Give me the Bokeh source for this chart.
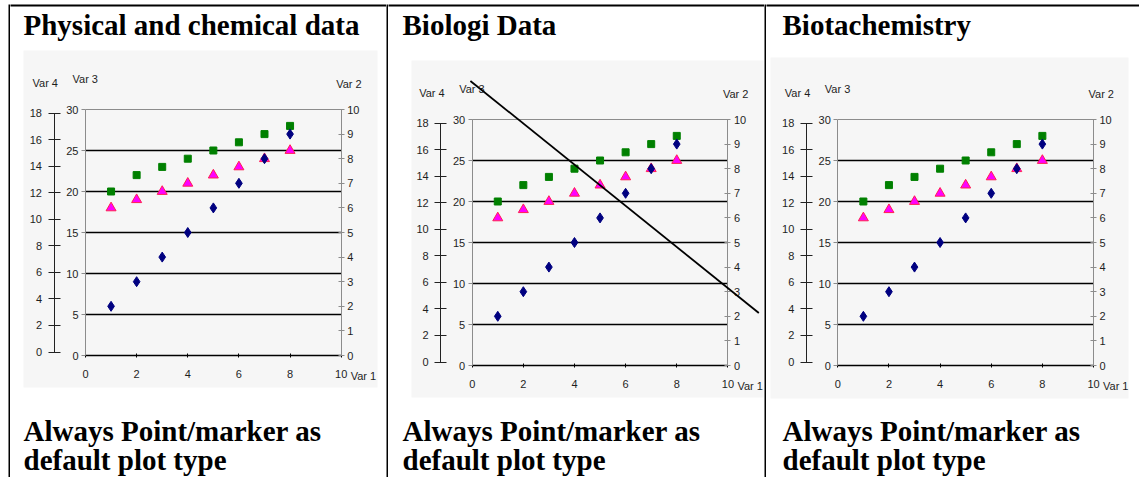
from bokeh.plotting import figure
from bokeh.models import Range1d, LinearAxis, FixedTicker, Label, Arrow, BoxAnnotation, Spacer
from bokeh.layouts import row, column
from bokeh.embed import file_html
from bokeh.resources import INLINE

# ---------------- data ----------------
x_vals = [1, 2, 3, 4, 5, 6, 7, 8]
var2_diamonds = [2, 3, 4, 5, 6, 7, 8, 9]
var3_squares = [20, 22, 23, 24, 25, 26, 27, 28]
var3_triangles = [18, 19, 20, 21, 22, 23, 24, 25]

x_ticks = [0, 2, 4, 6, 8, 10]
var3_ticks = [0, 5, 10, 15, 20, 25, 30]
var4_ticks = [0, 2, 4, 6, 8, 10, 12, 14, 16, 18]
var2_ticks = [0, 1, 2, 3, 4, 5, 6, 7, 8, 9, 10]
grid_levels = [5, 10, 15, 20, 25]

titles = ["Physical and chemical data", "Biologi Data", "Biotachemistry"]
caption_lines = ["Always Point/marker as", "default plot type"]
axis_names = ["Var 1", "Var 2", "Var 3", "Var 4"]

# strike-through line drawn across the middle chart (x, Var 3 units)
strike_x = [-0.07, 11.21]
strike_y = [34.7, 6.4]

# ---------------- layout constants ----------------
PAGE_Y0 = 4          # page y where the table (top border) starts
CELL_H = 473
FW, FH = 255.7, 246.0
SMALL = "Liberation Sans"
SERIF = "Liberation Serif"
IMG_BG = "#f6f6f6"
GREY = "#8c8c8c"
INK = "#1e1e1e"
BIG_ADJ = 9.0        # compensation for the alphabetic baseline of big text
SMALL_ADJ = 3.5


def axis_style(ax, tick_in, tick_out, standoff, line_color):
    ax.major_tick_in = tick_in
    ax.major_tick_out = tick_out
    ax.minor_tick_line_color = None
    ax.major_label_standoff = standoff
    ax.axis_line_color = line_color
    ax.major_tick_line_color = line_color
    ax.major_label_text_font = SMALL
    ax.major_label_text_font_size = "11px"
    ax.major_label_text_color = INK


def make_cell(page_x0, width, fl, ft, title, img_box, text_x, strike=False):
    # fl, ft: page position of x=0 and of Var 3 = 30
    pxx = FW / 10.0
    pxy = FH / 30.0
    fb = ft + FH

    def dx(px):
        return (px - fl) / pxx

    def dy(py):
        return (fb - py) / pxy

    top, bottom = PAGE_Y0, PAGE_Y0 + CELL_H
    v4_zero = fb - 3.5
    v4_px = (FH - 7.0) / 18.0
    v2_px = FH / 10.0

    p = figure(width=width, height=CELL_H, min_border=0, title=None,
               x_range=Range1d(dx(page_x0), dx(page_x0 + width)),
               y_range=Range1d(dy(bottom), dy(top)),
               x_axis_type=None, y_axis_type=None,
               output_backend="svg", toolbar_location=None,
               background_fill_color="white", border_fill_color="white",
               outline_line_color=None)
    p.extra_y_ranges = {
        "var4": Range1d((v4_zero - bottom) / v4_px, (v4_zero - top) / v4_px),
        "var2": Range1d((fb - bottom) / v2_px, (fb - top) / v2_px),
    }

    # table top border
    p.add_layout(BoxAnnotation(left=dx(page_x0 - 1), right=dx(page_x0 + width + 1),
                               top=dy(PAGE_Y0 - 1), bottom=dy(PAGE_Y0 + 2),
                               fill_color="black", fill_alpha=1.0, line_color=None))

    # chart image background
    l, t, r, b = img_box
    p.add_layout(BoxAnnotation(left=dx(l), right=dx(r), top=dy(t), bottom=dy(b),
                               fill_color=IMG_BG, fill_alpha=1.0, line_color=None,
                               level="underlay"))

    # horizontal grid lines and grey top border of the plot area
    n = len(grid_levels)
    p.segment(x0=[x_ticks[0]] * n, x1=[x_ticks[-1]] * n, y0=grid_levels, y1=grid_levels,
              line_color="black", line_width=1.3)
    p.segment(x0=[x_ticks[0]], x1=[x_ticks[-1]], y0=[var3_ticks[-1]], y1=[var3_ticks[-1]],
              line_color=GREY, line_width=1.2)

    xa = LinearAxis(ticker=FixedTicker(ticks=x_ticks), fixed_location=var3_ticks[0],
                    bounds=(x_ticks[0], x_ticks[-1]))
    axis_style(xa, 2, 2, 12, "black")
    xa.axis_line_width = 1.3
    p.add_layout(xa, "below")

    y3 = LinearAxis(ticker=FixedTicker(ticks=var3_ticks), fixed_location=x_ticks[0],
                    bounds=(var3_ticks[0], var3_ticks[-1]))
    axis_style(y3, 0, 4, 3, GREY)
    p.add_layout(y3, "left")

    y4 = LinearAxis(y_range_name="var4", ticker=FixedTicker(ticks=var4_ticks),
                    bounds=(var4_ticks[0], var4_ticks[-1]), fixed_location=dx(fl - 31.5))
    axis_style(y4, 6, 6, 6, "#222222")
    p.add_layout(y4, "left")

    y2 = LinearAxis(y_range_name="var2", ticker=FixedTicker(ticks=var2_ticks),
                    bounds=(var2_ticks[0], var2_ticks[-1]), fixed_location=x_ticks[-1])
    axis_style(y2, 3, 3, 3, GREY)
    p.add_layout(y2, "right")

    p.scatter(x_vals, var3_squares, marker="square", size=7,
              fill_color="#008000", line_color="#008000")
    p.scatter(x_vals, var3_triangles, marker="triangle", size=10,
              fill_color="#ff00ff", line_color="#ff2050", line_width=1)
    p.scatter(x_vals, var2_diamonds, marker="diamond", size=10,
              fill_color="#000080", line_color="#000080", y_range_name="var2")

    # axis names
    lab = dict(text_font=SMALL, text_font_size="11px", text_color=INK,
               text_baseline="alphabetic")
    p.add_layout(Label(x=dx(fl - 53), y=dy(ft - 23 - SMALL_ADJ), text=axis_names[3], **lab))
    p.add_layout(Label(x=dx(fl - 13), y=dy(ft - 27 - SMALL_ADJ), text=axis_names[2], **lab))
    p.add_layout(Label(x=dx(fl + FW - 5), y=dy(ft - 22 - SMALL_ADJ), text=axis_names[1], **lab))
    p.add_layout(Label(x=dx(fl + FW + 9.5), y=dy(fb + 24 - SMALL_ADJ), text=axis_names[0], **lab))

    big = dict(text_font=SERIF, text_font_style="bold", text_font_size="29px",
               text_color="black", text_baseline="alphabetic")
    p.add_layout(Label(x=dx(text_x), y=dy(33 - BIG_ADJ), text=title, **big))
    p.add_layout(Label(x=dx(text_x), y=dy(439.5 - BIG_ADJ), text=caption_lines[0], **big))
    p.add_layout(Label(x=dx(text_x), y=dy(468.5 - BIG_ADJ), text=caption_lines[1], **big))

    if strike:
        p.add_layout(Arrow(start=None, end=None, x_start=strike_x[0], y_start=strike_y[0],
                           x_end=strike_x[1], y_end=strike_y[1],
                           line_color="black", line_width=1.8))
    return p


def bar(w, h):
    return figure(width=w, height=h, min_border=0, title=None,
                  x_axis_type=None, y_axis_type=None,
                  toolbar_location=None, output_backend="svg",
                  background_fill_color="black", border_fill_color="black",
                  outline_line_color=None)


c1 = make_cell(10, 376, 85.0, 109.0, titles[0], (23, 50, 377, 387), 23)
c2 = make_cell(388, 376, 471.7, 119.0, titles[1], (411, 60, 763, 397), 402, strike=True)
c3 = make_cell(766, 373, 837.3, 119.0, titles[2], (770, 57, 1128, 398), 782)

root = column(
    Spacer(width=8, height=PAGE_Y0),
    row(Spacer(width=8, height=CELL_H), bar(2, CELL_H), c1, bar(2, CELL_H), c2,
        bar(2, CELL_H), c3),
)

open("out.html", "w").write(file_html(root, INLINE))
